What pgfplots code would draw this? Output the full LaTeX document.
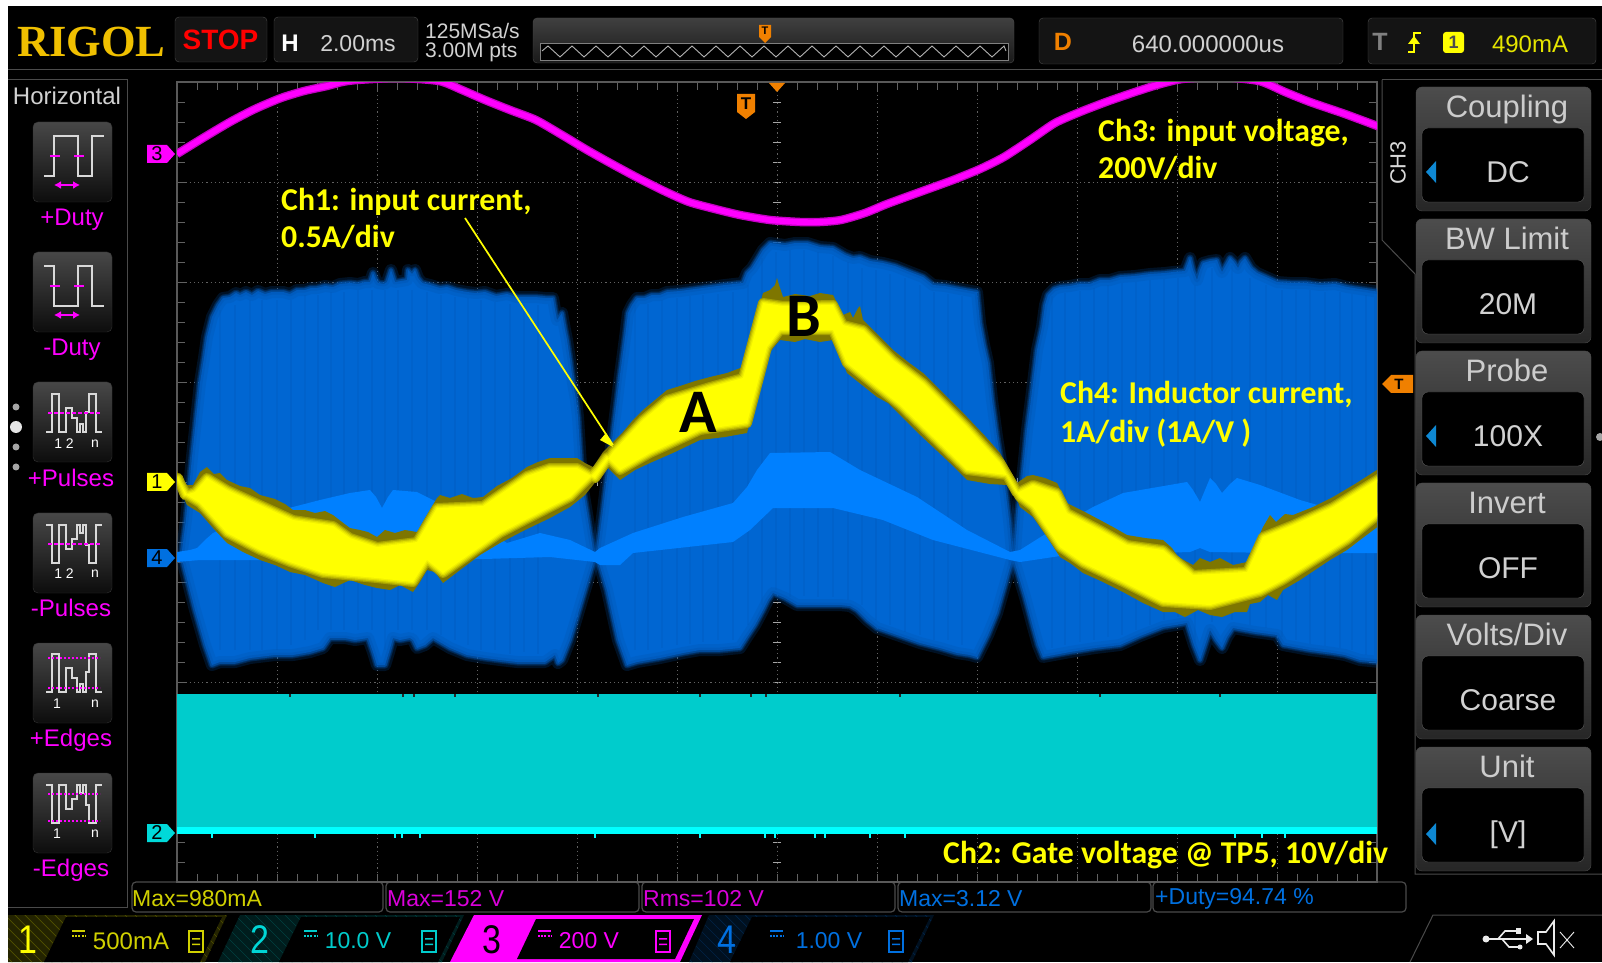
\documentclass[border=0pt]{standalone}
\usepackage{fontspec}
\setmainfont{Liberation Sans}
\newfontfamily\carl{Carlito}
\newfontfamily\serifb{Liberation Serif}
\usepackage{pgfplots}
\usepackage{pgfplotstable}
\pgfplotsset{compat=1.18}
\usetikzlibrary{arrows.meta}
\definecolor{bdark}{HTML}{0066D2}
\definecolor{bedge}{HTML}{0050A8}
\definecolor{bstripe}{HTML}{0058B8}
\definecolor{bbright}{HTML}{0080FF}
\definecolor{yolive}{HTML}{7E7600}
\definecolor{ylw}{HTML}{FFFF00}
\definecolor{mag}{HTML}{FF00FF}
\definecolor{magd}{HTML}{C400C4}
\definecolor{cyb}{HTML}{00CCCC}
\definecolor{cyh}{HTML}{00FFFF}
\definecolor{orng}{HTML}{F08000}
\definecolor{gold}{HTML}{F0C000}
\definecolor{meas}{HTML}{D0D000}
\definecolor{panel}{HTML}{4A4A4A}
\definecolor{blu}{HTML}{0070E0}

\pgfplotstableread[row sep=\\]{x y\\
178 478\\185 495\\195 492\\207 478\\227 490\\260 505\\293 520\\333 526\\350 538\\377 547\\417 542\\437 508\\483 506\\527 476\\550 468\\577 468\\595 478\\613 452\\643 420\\667 400\\710 387\\743 378\\763 303\\783 306\\833 305\\843 325\\863 330\\893 360\\923 383\\967 427\\1000 463\\1017 493\\1033 485\\1057 493\\1067 513\\1100 530\\1127 545\\1163 550\\1193 575\\1247 572\\1263 537\\1293 525\\1333 507\\1380 478\\
1380 513\\1347 540\\1283 580\\1260 592\\1210 605\\1163 602\\1123 582\\1083 563\\1060 547\\1033 507\\1020 497\\1007 475\\967 470\\933 437\\900 405\\877 387\\847 363\\833 330\\780 330\\767 347\\747 423\\700 430\\650 453\\620 470\\607 457\\597 470\\570 497\\525 520\\500 533\\443 573\\427 560\\413 582\\377 578\\323 573\\290 562\\260 550\\227 533\\200 503\\187 495\\178 480\\
}\ycore

\def\burstA{(181,558)(186,520)(192,457)(196,420)(200,383)(204,358)(207,337)(212,317)(218,305)(223,298)(230,297)(236,293)(240,295)(246,292)(252,295)(258,291)(265,294)(272,292)(283,292)(290,294)(297,290)(305,290)(311,288)(317,288)(325,286)(333,287)(340,284)(350,283)(358,284)(365,282)(370,282)(373,273)(376,280)(378,283)(384,284)(387,282)(391,270)(395,282)(401,281)(407,280)(408,270)(412,274)(415,270)(418,278)(422,283)(430,285)(440,288)(447,287)(456,290)(467,292)(476,293)(485,292)(496,296)(507,294)(517,297)(525,297)(535,297)(545,298)(553,298)(555,310)(557,320)(562,313)(565,330)(567,340)(570,360)(573,383)(576,400)(578,417)(580,450)(582,483)(588,520)(594,556)(594,560)(585,590)(577,617)(570,640)(562,660)(558,663)(555,655)(545,662)(530,662)(517,662)(500,660)(485,658)(467,655)(450,648)(433,638)(425,645)(417,648)(413,640)(410,638)(400,640)(393,638)(389,652)(385,665)(377,665)(373,652)(368,638)(355,640)(345,638)(330,638)(323,648)(310,652)(293,655)(275,655)(250,658)(235,662)(220,662)(212,665)(205,645)(195,610)(183,563)}
\def\burstB{(597,556)(603,510)(607,477)(612,440)(617,400)(620,375)(623,353)(626,330)(628,313)(632,305)(637,298)(645,298)(652,295)(660,295)(667,292)(680,291)(695,289)(710,287)(725,285)(743,283)(747,273)(752,268)(757,260)(763,250)(770,243)(785,245)(795,243)(807,243)(820,247)(833,248)(845,255)(853,258)(860,257)(870,261)(883,263)(895,266)(910,272)(923,277)(933,285)(945,286)(960,289)(977,292)(980,323)(984,345)(988,363)(992,400)(997,437)(1001,462)(1005,487)(1009,520)(1012,552)(1012,560)(1005,585)(997,613)(988,635)(977,657)(970,655)(957,653)(940,648)(920,643)(900,636)(877,628)(867,620)(857,610)(850,606)(840,605)(825,605)(810,605)(797,605)(785,598)(773,593)(768,600)(763,610)(755,625)(747,637)(740,648)(720,650)(700,650)(683,653)(660,658)(637,662)(627,665)(618,640)(607,590)(598,560)}
\def\burstC{(1015,552)(1018,510)(1022,480)(1027,430)(1030,407)(1033,383)(1037,350)(1042,327)(1045,305)(1048,295)(1054,289)(1060,287)(1070,286)(1080,284)(1090,284)(1100,280)(1110,280)(1120,277)(1135,276)(1150,274)(1165,273)(1173,272)(1185,271)(1190,258)(1193,270)(1197,280)(1200,270)(1203,263)(1210,261)(1217,260)(1220,268)(1222,272)(1226,265)(1230,258)(1234,262)(1238,268)(1241,262)(1245,258)(1251,268)(1257,273)(1266,277)(1277,282)(1290,283)(1305,283)(1320,285)(1335,284)(1347,287)(1360,289)(1380,292)(1380,662)(1360,660)(1345,655)(1333,653)(1310,650)(1283,645)(1277,635)(1255,632)(1233,628)(1227,637)(1222,648)(1216,640)(1210,630)(1205,645)(1200,660)(1194,645)(1187,623)(1175,625)(1163,627)(1140,636)(1120,645)(1095,648)(1070,652)(1043,657)(1038,645)(1033,627)(1025,597)(1013,557)}
\def\chthree{(177,154)(203,138)(230,122)(255,109)(281,98)(304,91)(327,86)(342,82)(357,80)(398,78)(439,81)(462,90)(485,100)(510,110)(536,120)(562,135)(587,150)(612,164)(638,178)(664,191)(689,202)(715,209)(740,215)(770,220)(800,222)(820,222)(841,220)(865,213)(887,204)(920,192)(953,180)(980,169)(1004,157)(1030,140)(1055,123)(1080,112)(1106,102)(1132,93)(1157,85)(1182,79)(1220,77)(1259,81)(1285,92)(1310,102)(1345,114)(1380,127)}

\newcommand{\polyp}[2]{\edef\tmppoly{\noexpand\addplot[\unexpanded{#1}] coordinates {#2} -- cycle;}\tmppoly}
\newcommand{\linep}[2]{\edef\tmppoly{\noexpand\addplot[\unexpanded{#1}] coordinates {#2};}\tmppoly}
\newcommand{\burst}[1]{%
  \polyp{draw=bdark,line width=7pt,opacity=.28,line join=round}{#1}
  \polyp{draw=bdark,line width=3.5pt,opacity=.55,line join=round}{#1}
  \polyp{fill=bdark,draw=none}{#1}
  \polyp{draw=bedge,line width=12pt,opacity=.22,line join=round}{#1}
  \polyp{draw=bedge,line width=5pt,opacity=.3,line join=round}{#1}
}
\newcommand{\T}[5][center]{\node[anchor=#1,inner sep=0pt,text=#3,font=\fontsize{#4}{#4}\selectfont] at (#2) {#5};}
\newcommand{\C}[3]{\node[anchor=west,inner sep=0pt,text=ylw,font=\carl\bfseries\fontsize{31.8}{31.8}\selectfont] at (#1,#2) {#3};}
\newcommand{\tagm}[4]{\fill[#2] (147,#1-9) -- (167,#1-9) -- (175,#1) -- (167,#1+9) -- (147,#1+9) -- cycle;
  \node[inner sep=0pt,text=#3,font=\fontsize{20}{20}\selectfont] at (157,#1) {#4};}
\newcommand{\btn}[1]{\draw[panel!70!black,rounded corners=5pt,top color=black!72,bottom color=black!95] (33,#1) rectangle (112,#1+80);}
\newcommand{\menu}[4]{%
  \draw[panel,rounded corners=6pt,top color=black!70,bottom color=black!85] (1416,#1) rectangle (1591,#1+124);
  \draw[panel!90,rounded corners=6pt,fill=black] (1422,#1+41) rectangle (1584,#1+115);
  \T{1507,#1+22}{black!20}{31}{\vphantom{Cg/}#2}
  \T{1508,#1+85}{black!18}{30}{#3}
  #4}
\newcommand{\marr}[1]{\fill[cyan!70!blue] (1426,#1) -- (1436,#1-11) -- (1436,#1+11) -- cycle;}
\newcommand{\chicon}[3]{%
  \draw[#2,line width=2pt] (#1-7,931) rectangle (#1+7,952);
  \fill[#2] (#1-4,938) rectangle (#1+4,939.5) (#1-4,943.5) rectangle (#1+4,945);
  \draw[#2,line width=1.6pt] (#3,931) -- (#3+13,931);
  \draw[#2,line width=1.3pt,dash pattern=on 2pt off 1.2pt] (#3,936) -- (#3+13,936);}
\newcommand{\hatchp}[3]{\begin{scope}\clip #1;\fill[#2!14!black] (0,905) rectangle (1000,970);
  \foreach \hx in {#3}{\draw[#2!32!black,line width=.7pt] (\hx,910) -- (\hx+55,965);}\end{scope}}
\newcommand{\bdig}[3]{\begin{scope}[shift={(#1,940)},xscale=.85]\node[inner sep=0pt,text=#2,font=\fontsize{40}{40}\selectfont,transform shape] at (0,0) {#3};\end{scope}}

\begin{document}
\begin{tikzpicture}
\useasboundingbox (0,0) rectangle (1602pt,962pt);
\fill[white] (0,0) rectangle (1602pt,962pt);
\begin{scope}[x=1pt,y=-1pt,yshift=962pt]
\fill[black] (8,6) rectangle (1602,962);
% top bar
\draw[black!70,line width=1pt] (8,70) -- (1602,70);
\draw[panel,rounded corners=4pt,fill=black!92] (175,17) rectangle (267,62);
\draw[panel,rounded corners=4pt,fill=black!92] (274,17) rectangle (418,62);
\draw[panel,rounded corners=4pt,top color=black!75,bottom color=black!90] (533,18) rectangle (1014,63);
\draw[black!50,fill=black] (540,43) rectangle (1008,60);
\draw[panel,rounded corners=4pt,fill=black!92] (1039,18) rectangle (1343,64);
\draw[panel,rounded corners=4pt,fill=black!92] (1368,18) rectangle (1596,64);
\node[anchor=west,inner sep=0pt,text=gold,font=\serifb\bfseries\fontsize{44.5}{44.5}\selectfont] at (17,41.5) {RIGOL};
\node[inner sep=0pt,text=red,font=\bfseries\fontsize{28}{28}\selectfont] at (220.5,40) {STOP};
\node[inner sep=0pt,text=white,font=\bfseries\fontsize{24}{24}\selectfont] at (290,43) {H};
\T{358,44}{black!18}{23}{2.00ms}
\T[west]{425,31}{black!18}{21}{125MSa/s}
\T[west]{425,52}{black!18}{21}{3.00M pts}
\draw[black!30,line width=.9pt] (542,51)
  \foreach \i in {0,...,38} {-- ({548+\i*12},{mod(\i,2)==0?46:57})} -- (1006,51);
\fill[orng] (759,25) rectangle (771,37) -- (771,37) -- (765,43) -- (759,37) -- cycle;
\node[inner sep=0pt,text=black,font=\bfseries\fontsize{11}{11}\selectfont] at (765,31) {T};
\node[inner sep=0pt,text=orng,font=\bfseries\fontsize{25}{25}\selectfont] at (1063,42) {D};
\T{1208,44}{black!18}{24}{640.000000us}
\node[inner sep=0pt,text=black!50,font=\bfseries\fontsize{25}{25}\selectfont] at (1380,42) {T};
\draw[ylw,line width=1.8pt] (1408,52) -- (1414,52) -- (1414,33) -- (1421,33);
\fill[ylw] (1408,44) -- (1420,44) -- (1414,36) -- cycle;
\fill[ylw,rounded corners=3pt] (1443,32) rectangle (1464,53);
\node[inner sep=0pt,text=black!70,font=\bfseries\fontsize{18}{18}\selectfont] at (1453.5,42.5) {1};
\T{1530,44}{ylw!90!black}{24}{490mA}
% left panel
\draw[panel,line width=1pt] (8,80) -- (127,80) -- (127,907) -- (8,907);
\T{67,96}{black!18}{24}{Horizontal}
\foreach \yy in {122,252,382,513,643,773}{\btn{\yy}}
\T{72,220}{mag}{24}{+Duty}
\T{72,350}{mag}{24}{-Duty}
\T{71,478}{mag}{24}{+Pulses}
\T{71,608}{mag}{24}{-Pulses}
\T{71,740}{mag}{24}{+Edges}
\T{71,870}{mag}{24}{-Edges}
\begin{scope}[line width=1.5pt]
\draw[black!15] (44,176) -- (54,176) -- (54,136) -- (78,136) -- (78,176) -- (92,176) -- (92,136) -- (104,136);
\draw[mag] (50,156) -- (60,156) (74,156) -- (84,156);
\draw[mag,{Latex[length=7pt,width=8pt]}-{Latex[length=7pt,width=8pt]}] (54,185) -- (80,185);
\draw[black!15] (44,266) -- (54,266) -- (54,306) -- (78,306) -- (78,266) -- (92,266) -- (92,306) -- (104,306);
\draw[mag] (50,286) -- (60,286) (74,286) -- (84,286);
\draw[mag,{Latex[length=7pt,width=8pt]}-{Latex[length=7pt,width=8pt]}] (54,315) -- (80,315);
\draw[black!15] (46,432) -- (52,432) -- (52,394) -- (59,394) -- (59,432) -- (66,432) -- (66,408) -- (72,408) -- (72,418) -- (77,418) -- (77,432) -- (80,432) -- (80,424) -- (83,424) -- (83,432) -- (86,432) -- (86,412) -- (89,412) -- (89,394) -- (96,394) -- (96,432) -- (102,432);
\draw[mag,dash pattern=on 4pt off 2pt] (48,413) -- (100,413);
\draw[black!15] (46,525) -- (52,525) -- (52,563) -- (59,563) -- (59,525) -- (66,525) -- (66,549) -- (72,549) -- (72,539) -- (77,539) -- (77,525) -- (80,525) -- (80,533) -- (83,533) -- (83,525) -- (86,525) -- (86,545) -- (89,545) -- (89,563) -- (96,563) -- (96,525) -- (102,525);
\draw[mag,dash pattern=on 4pt off 2pt] (48,544) -- (100,544);
\draw[black!15] (46,692) -- (52,692) -- (52,654) -- (59,654) -- (59,692) -- (66,692) -- (66,668) -- (72,668) -- (72,678) -- (77,678) -- (77,692) -- (80,692) -- (80,684) -- (83,684) -- (83,692) -- (86,692) -- (86,672) -- (89,672) -- (89,654) -- (96,654) -- (96,692) -- (102,692);
\draw[mag,dash pattern=on 2pt off 2pt] (48,658) -- (100,658) (48,688) -- (100,688);
\draw[black!15] (46,785) -- (52,785) -- (52,823) -- (59,823) -- (59,785) -- (66,785) -- (66,809) -- (72,809) -- (72,799) -- (77,799) -- (77,785) -- (80,785) -- (80,793) -- (83,793) -- (83,785) -- (86,785) -- (86,805) -- (89,805) -- (89,823) -- (96,823) -- (96,785) -- (102,785);
\draw[mag,dash pattern=on 2pt off 2pt] (48,794) -- (100,794) (48,821) -- (100,821);
\end{scope}
\foreach \yy/\a/\b in {444/1 2/n,574/1 2/n}{\T{64,\yy}{white}{14}{\a}\T{95,\yy}{white}{14}{\b}}
\foreach \yy in {704,834}{\T{57,\yy}{white}{14}{1}\T{95,\yy}{white}{14}{n}}
\fill[black!35] (16,407) circle (3.5);
\fill[black!10] (16,427) circle (6);
\fill[black!35] (16,447) circle (3.5);
\fill[black!35] (16,467) circle (3.5);
% right panel
\draw[panel,line width=1pt] (1382,80) -- (1382,240) -- (1415,274) -- (1415,874) -- (1602,874);
\draw[panel,line width=1pt] (1382,80) -- (1602,80);
\node[rotate=90,inner sep=0pt,text=black!15,font=\fontsize{22}{22}\selectfont] at (1398,163) {CH3};
\menu{87}{Coupling}{DC}{\marr{172}}
\menu{219}{BW Limit}{20M}{}
\menu{351}{Probe}{100X}{\marr{436}}
\menu{483}{Invert}{OFF}{}
\menu{615}{Volts/Div}{Coarse}{}
\menu{747}{Unit}{}{\marr{834}}
\T{1508,835}{black!18}{30}{[V]}
\fill[black!35] (1600,437) circle (4);
% measurement row
\foreach \a/\b in {132/383,386/639,642/895,898/1151,1153/1406}{\draw[panel,line width=1.2pt,rounded corners=4pt] (\a,882) rectangle (\b,912);}
\T[west]{132,899}{meas}{23}{Max=980mA}
\T[west]{387,899}{mag!85!black}{23}{Max=152 V}
\T[west]{643,899}{mag!85!black}{23}{Rms=102 V}
\T[west]{899,899}{blu}{23}{Max=3.12 V}
\T[west]{1155,899}{blu}{23}{+Duty=94.74 \%}
% channel strip
\hatchp{(8,915) -- (227,915) -- (205,962) -- (8,962) -- cycle}{ylw}{-40,-30,...,240}
\fill[black] (66,917) -- (222,917) -- (200,962) -- (44,962) -- cycle;
\hatchp{(240,915) -- (464,915) -- (442,962) -- (218,962) -- cycle}{cyb}{180,190,...,460}
\fill[black] (301,917) -- (460,917) -- (438,962) -- (279,962) -- cycle;
\fill[mag] (474,915) -- (702,915) -- (680,962) -- (450,962) -- cycle;
\fill[black] (536,919) -- (694,919) -- (675,959) -- (517,959) -- cycle;
\hatchp{(709,915) -- (934,915) -- (912,962) -- (689,962) -- cycle}{blu}{640,650,...,930}
\fill[black] (752,917) -- (930,917) -- (908,962) -- (730,962) -- cycle;
\bdig{28}{ylw}{1}
\bdig{260}{cyb!80!cyh}{2}
\bdig{492}{black}{3}
\bdig{727}{blu}{4}
\T{131,941}{meas}{24}{500mA}
\T{358,941}{cyb}{23}{10.0 V}
\T{589,941}{mag}{23}{200 V}
\T{829,941}{blu}{23}{1.00 V}
\chicon{196}{meas}{72}
\chicon{429}{cyb}{304}
\chicon{663}{mag}{538}
\chicon{896}{blu}{770}
\draw[panel,line width=1pt] (1410,962) -- (1433,915) -- (1602,915);
% usb and speaker
\begin{scope}[black!8,line width=1.6pt]
\draw (1488,939) -- (1526,939);
\fill[black!8] (1486,939) circle (3.5);
\fill[black!8] (1526,934) -- (1526,944) -- (1533,939) -- cycle;
\draw (1498,939) -- (1505,931) -- (1516,931);
\draw (1502,939) -- (1509,947) -- (1518,947);
\fill[black!8] (1516,928) rectangle (1521,934);
\fill[black!8] (1520,947) circle (2.5);
\draw (1538,932) -- (1546,932) -- (1554,921) -- (1554,955) -- (1546,944) -- (1538,944) -- cycle;
\draw[line width=.9pt] (1560,932) -- (1574,948) (1574,932) -- (1560,948);
\end{scope}
% centre graticule ticks
\foreach \i in {0,...,40}{\draw[black!35,line width=.8pt] (773,{82+\i*20}) -- (781,{82+\i*20});}
\foreach \i in {0,...,60}{\draw[black!35,line width=.8pt] ({177+\i*20},478) -- ({177+\i*20},486);}
\end{scope}

\begin{axis}[at={(177pt,80pt)},anchor=south west,scale only axis,width=1200pt,height=800pt,
  xmin=177,xmax=1377,ymin=82,ymax=882,y dir=reverse,
  xtick={177,277,...,1377},ytick={82,182,...,882},
  minor x tick num=4,minor y tick num=4,
  xticklabels={},yticklabels={},
  tick align=inside,tickwidth=8pt,subtickwidth=8pt,
  every tick/.style={draw=black!62,line width=.8pt},
  grid=major,grid style={draw=black!62,line width=.8pt,dash pattern=on 1.2pt off 3pt},
  axis line style={draw=black!65,line width=1.2pt},
  unbounded coords=jump,
]
% Ch4 envelope, three bursts
\burst{\burstA}
\burst{\burstB}
\burst{\burstC}
% faint vertical striping of the envelope
\addplot[draw=bstripe,line width=2.4pt,opacity=.3] coordinates {
(235,305)(235,650)(235,nan)(262,300)(262,650)(262,nan)(291,300)(291,645)(291,nan)(318,295)(318,630)(318,nan)(344,292)(344,630)(344,nan)(372,290)(372,630)(372,nan)(398,290)(398,630)(398,nan)(427,292)(427,630)(427,nan)(455,297)(455,640)(455,nan)(481,300)(481,650)(481,nan)(510,304)(510,654)(510,nan)(538,305)(538,654)(538,nan)
(648,304)(648,650)(648,nan)(677,298)(677,645)(677,nan)(703,295)(703,642)(703,nan)(733,292)(733,640)(733,nan)(762,258)(762,605)(762,nan)(790,250)(790,597)(790,nan)(818,252)(818,597)(818,nan)(848,262)(848,600)(848,nan)(876,270)(876,620)(876,nan)(905,278)(905,632)(905,nan)(934,292)(934,640)(934,nan)(962,296)(962,645)(962,nan)
(1065,293)(1065,645)(1065,nan)(1094,288)(1094,640)(1094,nan)(1122,283)(1122,635)(1122,nan)(1150,280)(1150,625)(1150,nan)(1178,278)(1178,617)(1178,nan)(1212,268)(1212,622)(1212,nan)(1250,278)(1250,625)(1250,nan)(1282,290)(1282,637)(1282,nan)(1310,290)(1310,644)(1310,nan)(1340,292)(1340,648)(1340,nan)(1366,295)(1366,655)
};
\addplot[draw=bstripe,line width=1.2pt,opacity=.25] coordinates {
(220,310)(220,650)(220,nan)(250,300)(250,650)(250,nan)(277,300)(277,650)(277,nan)(305,295)(305,640)(305,nan)(331,292)(331,630)(331,nan)(358,290)(358,630)(358,nan)(385,290)(385,650)(385,nan)(412,290)(412,630)(412,nan)(441,295)(441,635)(441,nan)(468,298)(468,645)(468,nan)(495,302)(495,650)(495,nan)(524,304)(524,652)(524,nan)
(635,305)(635,650)(635,nan)(662,300)(662,648)(662,nan)(690,296)(690,644)(690,nan)(718,294)(718,640)(718,nan)(748,285)(748,625)(748,nan)(776,252)(776,590)(776,nan)(804,250)(804,596)(804,nan)(833,256)(833,597)(833,nan)(862,268)(862,605)(862,nan)(890,274)(890,625)(890,nan)(920,285)(920,635)(920,nan)(948,294)(948,640)(948,nan)
(1052,296)(1052,648)(1052,nan)(1080,291)(1080,642)(1080,nan)(1108,285)(1108,637)(1108,nan)(1136,282)(1136,630)(1136,nan)(1164,279)(1164,620)(1164,nan)(1195,285)(1195,645)(1195,nan)(1232,265)(1232,620)(1232,nan)(1266,285)(1266,628)(1266,nan)(1296,290)(1296,640)(1296,nan)(1325,292)(1325,646)(1325,nan)(1352,294)(1352,650)
};
% Ch4 bright core
\addplot[fill=bbright,draw=none] coordinates {
(177,552)(190,550)(197,548)(205,540)(213,533)(230,525)(260,515)(293,507)(320,500)(350,493)(370,490)(376,497)(382,508)(388,497)(393,490)(417,492)(433,500)(470,520)(507,543)(540,533)(570,540)(595,552)(600,548)(633,533)(683,517)(733,503)(747,487)(757,470)(770,453)(830,452)(860,470)(917,497)(967,530)(1010,552)(1020,550)(1047,533)(1093,507)(1123,493)(1187,482)(1193,490)(1200,502)(1205,490)(1210,478)(1216,484)(1222,493)(1230,484)(1237,478)(1260,485)(1300,500)(1380,523)
(1380,553)(1283,553)(1210,552)(1200,548)(1190,552)(1060,556)(1020,562)(1010,560)(933,540)(883,520)(833,508)(773,508)(750,530)(733,542)(633,553)(620,565)(600,565)(595,562)(550,557)(450,560)(380,562)(300,560)(200,560)(177,562)
} -- cycle;
% Ch3
\linep{draw=magd,line width=8.5pt,line join=round,smooth,tension=.4}{\chthree}
\linep{draw=mag,line width=5.8pt,line join=round,smooth,tension=.4}{\chthree}
% Ch1
\addplot[fill=yolive,draw=none] coordinates {
(177,470)(181,480)(185,485)(193,485)(200,472)(207,467)(214,474)(220,473)(227,480)(240,486)(250,488)(260,495)(275,499)(285,504)(293,510)(305,510)(315,513)(325,511)(333,515)(342,522)(350,528)(360,530)(368,532)(377,537)(385,530)(395,533)(405,530)(417,532)(425,518)(431,508)(437,498)(440,495)(450,498)(462,494)(473,498)(483,497)(497,486)(512,478)(527,467)(538,462)(550,458)(563,458)(577,458)(585,463)(593,467)(603,452)(613,442)(623,432)(633,420)(643,410)(655,400)(667,390)(680,386)(695,381)(710,377)(727,373)(743,367)(750,340)(757,315)(763,293)(770,290)(775,285)(777,278)(779,285)(783,297)(795,294)(810,296)(820,293)(833,295)(838,305)(843,315)(850,312)(853,318)(858,308)(860,306)(863,320)(878,335)(893,350)(908,362)(923,373)(945,395)(967,417)(985,436)(1000,453)(1010,470)(1017,483)(1027,476)(1033,475)(1045,478)(1057,483)(1062,493)(1067,503)(1083,511)(1100,520)(1113,527)(1127,535)(1145,538)(1163,540)(1172,548)(1178,557)(1193,565)(1200,558)(1210,562)(1220,558)(1233,565)(1247,562)(1255,545)(1263,527)(1270,515)(1276,522)(1285,514)(1293,515)(1313,507)(1333,497)(1355,484)(1380,468)
(1380,525)(1360,540)(1347,550)(1330,560)(1315,570)(1300,580)(1283,590)(1277,600)(1268,595)(1260,602)(1250,604)(1247,612)(1235,612)(1222,617)(1210,615)(1198,610)(1185,617)(1175,612)(1163,612)(1143,603)(1123,592)(1103,582)(1083,573)(1070,563)(1060,557)(1047,537)(1033,517)(1020,507)(1013,490)(1007,485)(990,484)(967,480)(950,463)(933,447)(917,432)(900,415)(888,403)(877,397)(862,385)(847,373)(840,355)(833,340)(820,342)(805,339)(795,342)(780,340)(773,348)(767,357)(760,385)(753,410)(747,433)(725,437)(700,440)(675,452)(650,463)(635,470)(620,480)(613,473)(607,467)(600,473)(597,480)(585,495)(570,507)(550,518)(525,530)(500,543)(480,555)(460,570)(443,583)(435,572)(427,570)(420,582)(413,592)(400,585)(390,590)(377,588)(365,585)(350,580)(335,587)(323,583)(305,575)(290,572)(275,565)(260,560)(243,552)(227,543)(213,528)(200,513)(187,505)(181,492)(177,477)
} -- cycle;
\addplot[draw=yolive!70!ylw,line width=10pt,line join=round] table {\ycore} -- cycle;
\addplot[draw=yolive!45!ylw,line width=7.5pt,line join=round] table {\ycore} -- cycle;
\addplot[draw=yolive!25!ylw,line width=5pt,line join=round] table {\ycore} -- cycle;
\addplot[draw=yolive!10!ylw,line width=2.5pt,line join=round] table {\ycore} -- cycle;
\addplot[fill=ylw,draw=none] table {\ycore} -- cycle;
% Ch2
\addplot[fill=cyb,draw=none] coordinates {(177,694)(1377,694)(1377,833)(177,833)} -- cycle;
\addplot[draw=cyh,line width=7pt] coordinates {(177,830)(1377,830)};
\addplot[draw=cyh,line width=1.5pt] coordinates {
(212,833)(212,838)(212,nan)(315,833)(315,838)(315,nan)(395,833)(395,838)(395,nan)(402,833)(402,838)(402,nan)(420,833)(420,838)(420,nan)(595,833)(595,838)(595,nan)(700,833)(700,838)(700,nan)(765,833)(765,838)(765,nan)(775,833)(775,838)(775,nan)(815,833)(815,838)(815,nan)(825,833)(825,838)(825,nan)(870,833)(870,838)(870,nan)(905,833)(905,838)(905,nan)(1235,833)(1235,838)(1235,nan)(1262,833)(1262,838)(1262,nan)(1285,833)(1285,838)};
\addplot[draw=black!85,line width=1.2pt] coordinates {
(290,694)(290,696.5)(290,nan)(403,694)(403,697)(403,nan)(414,694)(414,696.5)(414,nan)(455,694)(455,696.5)(455,nan)(598,694)(598,697)(598,nan)(700,694)(700,696.5)(700,nan)(751,694)(751,697)(751,nan)(766,694)(766,697)(766,nan)(900,694)(900,696.5)(900,nan)(1100,694)(1100,696.5)(1100,nan)(1220,694)(1220,696.5)};
\end{axis}

\begin{scope}[x=1pt,y=-1pt,yshift=962pt]
\tagm{154}{mag}{black}{3}
\tagm{482}{ylw}{black}{1}
\tagm{558}{blu}{black}{4}
\tagm{833}{cyh!85!black}{black}{2}
% trigger markers
\fill[orng] (737,94) rectangle (755,112) -- (755,112) -- (746,119) -- (737,112) -- cycle;
\node[inner sep=0pt,text=black,font=\bfseries\fontsize{17}{17}\selectfont] at (746,104) {T};
\fill[orng] (769,83) -- (785,83) -- (777,92) -- cycle;
\fill[orng] (1382,384) -- (1391,375) -- (1413,375) -- (1413,393) -- (1391,393) -- cycle;
\node[inner sep=0pt,text=black,font=\bfseries\fontsize{15}{15}\selectfont] at (1399,384) {T};
% annotations
\draw[ylw,line width=1.7pt] (465,218) -- (613,445);
\fill[ylw] (613,447) -- (606,433) -- (600,440) -- cycle;
\C{281}{202}{Ch1: input current,}
\C{281}{237}{0.5A/div}
\C{1098}{133}{Ch3: input voltage,}
\C{1098}{168}{200V/div}
\C{1060}{394}{Ch4: Inductor current,}
\C{1060}{433}{1A/div (1A/V )}
\C{943}{855}{Ch2: Gate voltage @ TP5, 10V/div}
\node[inner sep=0pt,text=black,font=\carl\bfseries\fontsize{62}{62}\selectfont] at (698,412) {A};
\node[inner sep=0pt,text=black,font=\carl\bfseries\fontsize{62}{62}\selectfont] at (804,316) {B};
\end{scope}
\end{tikzpicture}
\end{document}
